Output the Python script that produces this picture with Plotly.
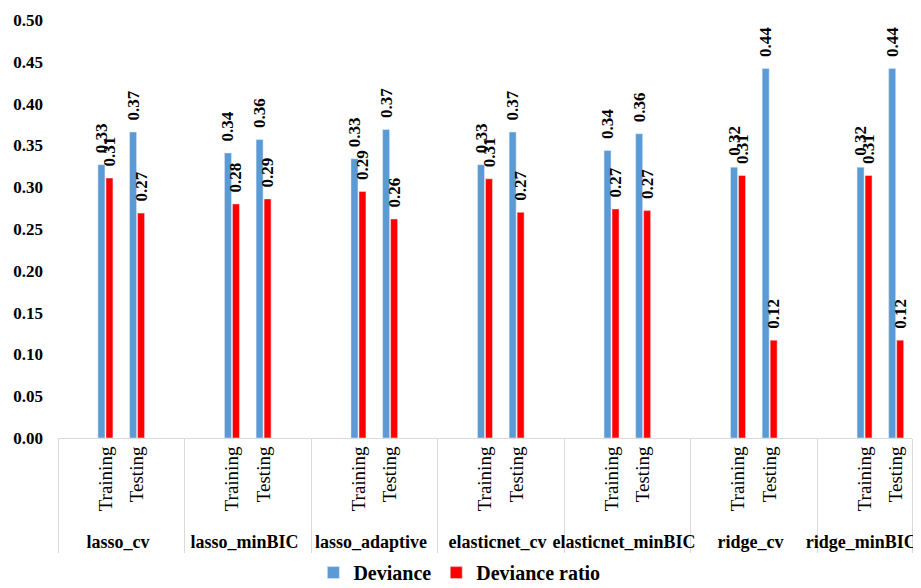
import plotly.graph_objects as go

groups = ["lasso_cv", "lasso_minBIC", "lasso_adaptive", "elasticnet_cv",
          "elasticnet_minBIC", "ridge_cv", "ridge_minBIC"]
subsets = ["Training", "Testing"]
deviance = [[0.327, 0.366], [0.341, 0.357], [0.334, 0.369], [0.327, 0.366],
            [0.344, 0.364], [0.324, 0.442], [0.324, 0.442]]
deviance_ratio = [[0.311, 0.269], [0.280, 0.286], [0.295, 0.262], [0.310, 0.270],
                  [0.274, 0.272], [0.314, 0.117], [0.314, 0.117]]
y_ticks = [0.00, 0.05, 0.10, 0.15, 0.20, 0.25, 0.30, 0.35, 0.40, 0.45, 0.50]

FONT = "Liberation Serif"
BLUE = "#5B9BD5"
RED = "#FF0000"

xg, xs, dev, rat = [], [], [], []
for i, g in enumerate(groups):
    gl = '<span style="font-size:18px"><b>' + g + "</b></span>"
    xg.append(gl); xs.append(" "); dev.append(None); rat.append(None)
    for j, s in enumerate(subsets):
        xg.append(gl); xs.append(s)
        dev.append(deviance[i][j]); rat.append(deviance_ratio[i][j])
    if i < len(groups) - 1:
        xg.append(gl); xs.append("  "); dev.append(None); rat.append(None)

def lab(vals):
    return ["" if v is None else "<b>\u00a0\u00a0" + f"{v:.2f}" + "</b>" for v in vals]

fig = go.Figure()
fig.add_trace(go.Bar(x=[xg, xs], y=dev, name="<b>Deviance</b>", marker_color=BLUE,
                     text=lab(dev), textposition="outside", textangle=-90,
                     constraintext="none", cliponaxis=False,
                     textfont=dict(family=FONT, size=17, color="black")))
fig.add_trace(go.Bar(x=[xg, xs], y=rat, name="<b>Deviance ratio</b>", marker_color=RED,
                     text=lab(rat), textposition="outside", textangle=-90,
                     constraintext="none", cliponaxis=False,
                     textfont=dict(family=FONT, size=17, color="black")))

# page body has an 8px default margin, so the figure is 8px smaller
fig.update_layout(
    width=913, height=580,
    margin=dict(l=50, r=9, t=12, b=150, autoexpand=False),
    paper_bgcolor="white", plot_bgcolor="white",
    barmode="group", bargap=0.494, bargroupgap=0.125,
    font=dict(family=FONT, color="black"),
    showlegend=True,
    legend=dict(orientation="h", x=0.47, xanchor="center", y=-0.322, yanchor="middle",
                font=dict(family=FONT, size=20, color="black"),
                itemwidth=30, traceorder="normal"),
)
fig.update_xaxes(type="multicategory", showline=True, linecolor="#d9d9d9", linewidth=1,
                 showgrid=False, ticks="", tickangle=-90, automargin=False,
                 tickfont=dict(family=FONT, size=19, color="black"),
                 showdividers=True, dividercolor="#d9d9d9", dividerwidth=1)
fig.update_yaxes(range=[0, 0.5], tickvals=y_ticks,
                 ticktext=["<b>%.2f</b>" % v for v in y_ticks], showgrid=False,
                 showline=False, zeroline=False, ticks="", ticklabelstandoff=14,
                 automargin=False,
                 tickfont=dict(family=FONT, size=17, color="black"))

fig.write_html("out.html")
